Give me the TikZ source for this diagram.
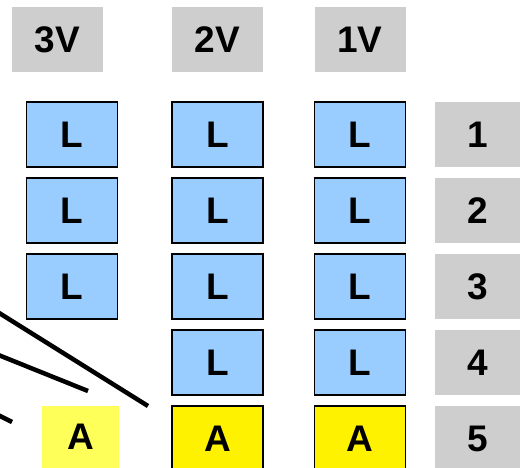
\documentclass[tikz,border=0pt]{standalone}
\usepackage{fontspec}
\setmainfont{Liberation Sans}
\usetikzlibrary{positioning}
\definecolor{lblue}{RGB}{153,204,255}
\definecolor{hgray}{RGB}{206,206,206}
\definecolor{pyellow}{RGB}{255,255,90}

\begin{document}
\begin{tikzpicture}[x=1pt,y=-1pt,node distance=11pt,
    every node/.style={font=\fontsize{37}{40}\selectfont\bfseries,inner sep=0pt,outer sep=0pt},
    lbox/.style={draw=black,line width=1.5pt,fill=lblue,minimum width=91pt,minimum height=65pt},
    abox/.style={draw=black,line width=1.5pt,fill=yellow,minimum width=91pt,minimum height=65pt},
    pbox/.style={fill=pyellow,minimum width=77pt,minimum height=62pt},
    hbox/.style={fill=hgray,minimum width=91pt,minimum height=65pt},
    nbox/.style={fill=hgray,minimum width=85pt,minimum height=65pt},
    wire/.style={line width=4.5pt}]
    \useasboundingbox (0,0) rectangle (522,467);
    % headers
    \node[hbox] (h3) at (57.5,39.5) {3V};
    \node[hbox] (h2) at (217.5,39.5) {2V};
    \node[hbox] (h1) at (360,39.5) {1V};
    % column 3V
    \node[lbox] (c3r1) at (72,134.5) {L};
    \node[lbox] (c3r2) [below=of c3r1] {L};
    \node[lbox] (c3r3) [below=of c3r2] {L};
    \node[pbox] (c3r5) at (80.5,437) {A};
    % column 2V
    \node[lbox] (c2r1) at (217.5,134.5) {L};
    \node[lbox] (c2r2) [below=of c2r1] {L};
    \node[lbox] (c2r3) [below=of c2r2] {L};
    \node[lbox] (c2r4) [below=of c2r3] {L};
    \node[abox] (c2r5) [below=of c2r4] {A};
    % column 1V
    \node[lbox] (c1r1) at (360,134.5) {L};
    \node[lbox] (c1r2) [below=of c1r1] {L};
    \node[lbox] (c1r3) [below=of c1r2] {L};
    \node[lbox] (c1r4) [below=of c1r3] {L};
    \node[abox] (c1r5) [below=of c1r4] {A};
    % row numbers
    \node[nbox] (n1) at (477.5,134.5) {1};
    \node[nbox] (n2) [below=of n1] {2};
    \node[nbox] (n3) [below=of n2] {3};
    \node[nbox] (n4) [below=of n3] {4};
    \node[nbox] (n5) [below=of n4] {5};
    % lines from the left
    \coordinate (w1a) at (-4,311);
    \coordinate (w1b) at (148,406);
    \coordinate (w2a) at (-4,354);
    \coordinate (w2b) at (88,391);
    \coordinate (w3a) at (-4,414);
    \coordinate (w3b) at (12,422);
    \draw[wire] (w1a) -- (w1b);
    \draw[wire] (w2a) -- (w2b);
    \draw[wire] (w3a) -- (w3b);
\end{tikzpicture}
\end{document}
